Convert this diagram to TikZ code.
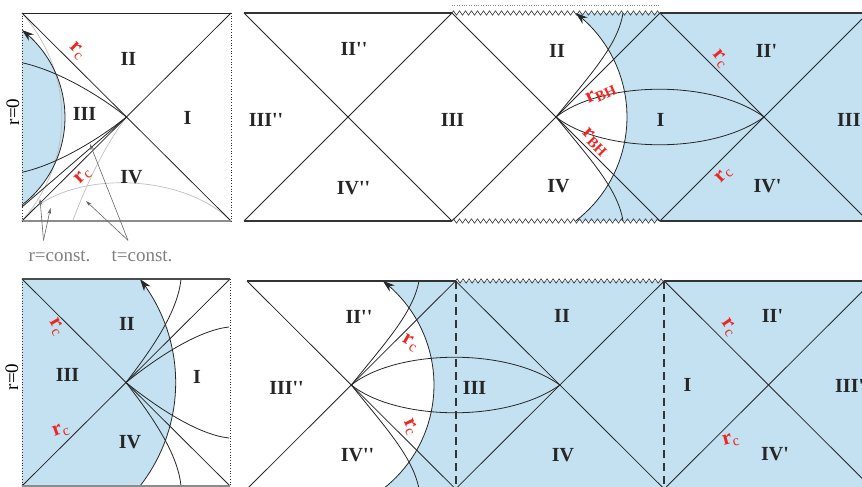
\documentclass[tikz,border=0pt]{standalone}
\usepackage{fontspec}
\setmainfont{Liberation Serif}
\usetikzlibrary{arrows.meta,decorations.pathmorphing}
\definecolor{starblue}{RGB}{195,225,241}
\definecolor{rcred}{RGB}{236,38,32}
\definecolor{constgray}{RGB}{128,128,128}
\newcommand{\rc}{r\textsubscript{\mdseries c}}
\newcommand{\rbh}{r\textsubscript{BH}}
\newcommand{\pr}{\textquotesingle}
\tikzstyle{horizon} = [line width=0.8pt, black!85]
\tikzstyle{faint} = [line width=0.7pt, black!25]
\tikzstyle{edgegray} = [line width=1.5pt, black!45]
\tikzstyle{sing} = [line width=1.8pt, black!80]
\tikzstyle{zz} = [line width=0.6pt, black!80, decorate, decoration={zigzag,segment length=6pt,amplitude=2.2pt}]
\tikzstyle{origin} = [line width=0.7pt, black!80, dotted]
\tikzstyle{surface} = [line width=0.8pt, black!85, -{Stealth[length=12pt,width=8pt]}]
\tikzstyle{region} = [font=\fontsize{20}{20}\selectfont\bfseries, text=black!85, inner sep=0pt]
\tikzstyle{rlabel} = [font=\fontsize{21}{21}\selectfont\bfseries, text=rcred, inner sep=0pt]
\tikzstyle{constlbl} = [font=\fontsize{19}{19}\selectfont, text=constgray, inner sep=1pt]
\tikzstyle{pointer} = [line width=0.6pt, black!60, -{Stealth[length=6pt,width=3.5pt]}]

\begin{document}
\begin{tikzpicture}[x=1pt,y=-1pt]
    \useasboundingbox (0,0) rectangle (862,487);
    \clip (0,0) rectangle (862,487);

    % top left
    \fill[starblue] plot[domain=-52.35:52.35,samples=40] ({-45.5+110.5*cos(\x)},{117.5+110.5*sin(\x)}) -- cycle;
    \draw[faint] (22,221) .. controls (75,160) and (75,74) .. (22,13);
    \draw[faint] (22,221) .. controls (60,170) and (180,170) .. (231,221);
    \draw[faint] (72.7,221) .. controls (88,180) and (106,144) .. (126.5,117);
    \draw[horizon] (22,13) -- (231,221);
    \draw[horizon] (22,221) -- (231,13);
    \draw[horizon] (22,62.7) .. controls (55,70) and (95,92) .. (126.5,117);
    \draw[horizon] (22,172.3) .. controls (55,165) and (95,142) .. (126.5,117);
    \draw[horizon] (22,207) -- (126.5,117);
    \draw[surface] plot[domain=-52.35:52.35,samples=40] ({-45.5+110.5*cos(\x)},{117.5-110.5*sin(\x)});
    \draw[horizon] (22,13) -- (231,13);
    \draw[edgegray] (22,221) -- (231,221);
    \draw[origin] (22,13) -- (22,221);
    \draw[origin] (231,13) -- (231,221);
    \node[region] (tlII) at (128.5,59) {II};
    \node[region] (tlIII) at (84.5,114) {III};
    \node[region] (tlI) at (187.5,118) {I};
    \node[region] (tlIV) at (131.5,177.5) {IV};
    \node[rlabel,rotate=-45] (tlrcup) at (77,51) {\rc};
    \node[rlabel,rotate=45] (tlrcdn) at (83,176) {\rc};
    \node[font=\fontsize{19}{19}\selectfont,rotate=90] (tlzero) at (13,112) {r=0};
    \node[constlbl] (rconst) at (59.5,256) {r=const.};
    \node[constlbl] (tconst) at (142,256) {t=const.};
    \coordinate (rtgtA) at (40,199);
    \coordinate (rtgtB) at (50.5,208);
    \coordinate (ttgtA) at (90,144);
    \coordinate (ttgtB) at (86,201);
    \draw[pointer] ([xshift=-16pt,yshift=9pt]rconst.north) -- (rtgtA);
    \draw[pointer] ([xshift=-16pt,yshift=9pt]rconst.north) -- (rtgtB);
    \draw[pointer] ([xshift=-14pt,yshift=9pt]tconst.north) -- (ttgtA);
    \draw[pointer] ([xshift=-14pt,yshift=9pt]tconst.north) -- (ttgtB);

    % top right
    \fill[starblue] plot[domain=-52.5:52.5,samples=40] ({496+131*cos(\x)},{117-131*sin(\x)}) -- (862,13) -- (862,221) -- cycle;
    \foreach \c in {348,556,764}{
        \draw[horizon] (\c-104,13) -- (\c+104,221);
        \draw[horizon] (\c-104,221) -- (\c+104,13);
    }
    \draw[horizon] (556,117) .. controls (600,82) and (710,78) .. (764,117);
    \draw[horizon] (556,117) .. controls (600,152) and (710,156) .. (764,117);
    \draw[horizon] (556,117) .. controls (590,75) and (618,45) .. (623,13);
    \draw[horizon] (556,117) .. controls (590,159) and (618,189) .. (623,221);
    \draw[surface] plot[domain=-52.5:52.5,samples=40] ({496+131*cos(\x)},{117-131*sin(\x)});
    \draw[sing] (244,13) -- (452,13);
    \draw[sing] (660,13) -- (862,13);
    \draw[sing] (244,221) -- (452,221);
    \draw[sing] (660,221) -- (862,221);
    \draw[zz] (452,13) -- (660,13);
    \draw[zz] (452,221) -- (660,221);
    \draw[black!45, dotted] (452,5) -- (660,5);
    \node[region] (trIIpp) at (354,49) {II\pr\pr};
    \node[region] (trIIIpp) at (266,119.5) {III\pr\pr};
    \node[region] (trIVpp) at (353.5,188) {IV\pr\pr};
    \node[region] (trIII) at (452.5,119.5) {III};
    \node[region] (trII) at (557,51) {II};
    \node[region] (trI) at (660.5,119.5) {I};
    \node[region] (trIV) at (558.5,186.5) {IV};
    \node[region] (trIIp) at (766.5,50.5) {II\pr};
    \node[region] (trIVp) at (767.5,186.5) {IV\pr};
    \node[region,anchor=west] (trIIIp) at (837,119.5) {III\pr};
    \node[rlabel,rotate=25] (trbhup) at (601,94) {\rbh};
    \node[rlabel,rotate=-45] (trbhdn) at (595,142) {\rbh};
    \node[rlabel,rotate=-50] (trrcup) at (720,59) {\rc};
    \node[rlabel,rotate=45] (trrcdn) at (724,175) {\rc};

    % bottom left
    \fill[starblue] (22,279) -- plot[domain=-38:38,samples=40] ({7.8+167.9*cos(\x)},{382.5+167.9*sin(\x)}) -- (22,486) -- cycle;
    \draw[horizon] (22,279) -- (230,486);
    \draw[horizon] (22,486) -- (230,279);
    \draw[horizon] (126,382.5) .. controls (160,355) and (200,330) .. (229,327);
    \draw[horizon] (126,382.5) .. controls (160,410) and (200,435) .. (229,438);
    \draw[horizon] (126,382.5) .. controls (155,345) and (178,310) .. (181,279);
    \draw[horizon] (126,382.5) .. controls (155,420) and (178,455) .. (181,486);
    \draw[surface] plot[domain=-38:38,samples=40] ({7.8+167.9*cos(\x)},{382.5-167.9*sin(\x)});
    \draw[line width=1.4pt, black!70] (22,279) -- (230,279);
    \draw[edgegray] (22,486) -- (230,486);
    \draw[origin] (22,279) -- (22,486);
    \draw[origin] (230,279) -- (230,486);
    \node[region] (blII) at (127,324) {II};
    \node[region] (blIII) at (67.5,374.5) {III};
    \node[region] (blI) at (197,377) {I};
    \node[region] (blIV) at (130,442) {IV};
    \node[rlabel,rotate=-60] (blrcup) at (56,327) {\rc};
    \node[rlabel,rotate=20] (blrcdn) at (61,431) {\rc};
    \node[font=\fontsize{19}{19}\selectfont,rotate=90] (blzero) at (12,377) {r=0};

    % bottom right
    \fill[starblue] plot[domain=-52.3:52.3,samples=40] ({302.5+131.5*cos(\x)},{385-131.5*sin(\x)}) -- (862,281) -- (862,489) -- cycle;
    \foreach \c in {351.3,559.9,768.5}{
        \draw[horizon] (\c-104.3,281) -- (\c+104.3,489);
        \draw[horizon] (\c-104.3,489) -- (\c+104.3,281);
    }
    \draw[horizon] (351.3,385) .. controls (395,350) and (505,346) .. (559.9,385);
    \draw[horizon] (351.3,385) .. controls (395,420) and (505,424) .. (559.9,385);
    \draw[horizon] (351.3,385) .. controls (385,343) and (413,313) .. (419,281);
    \draw[horizon] (351.3,385) .. controls (385,427) and (413,457) .. (419,489);
    \draw[surface] plot[domain=-52.3:52.3,samples=40] ({302.5+131.5*cos(\x)},{385-131.5*sin(\x)});
    \draw[sing] (247,281) -- (455.6,281);
    \draw[sing] (664.2,281) -- (862,281);
    \draw[zz] (455.6,281) -- (664.2,281);
    \foreach \c in {456,664}{
        \draw[line width=2pt, black!80, dash pattern=on 8pt off 5pt] (\c,281) -- (\c,489);
    }
    \node[region] (brIIpp) at (359,316.5) {II\pr\pr};
    \node[region] (brIIIpp) at (286.5,387.5) {III\pr\pr};
    \node[region] (brIVpp) at (357.5,455) {IV\pr\pr};
    \node[region] (brIII) at (474.5,387.5) {III};
    \node[region] (brII) at (562,316) {II};
    \node[region] (brIV) at (563,455) {IV};
    \node[region] (brI) at (687.5,385) {I};
    \node[region] (brIIp) at (772.5,315.5) {II\pr};
    \node[region] (brIVp) at (775,454.5) {IV\pr};
    \node[region,anchor=west] (brIIIp) at (835,386) {III\pr};
    \node[rlabel,rotate=-30] (brrcA) at (410,343) {\rc};
    \node[rlabel,rotate=-65] (brrcB) at (410,427) {\rc};
    \node[rlabel,rotate=-55] (brrcC) at (728.5,327.5) {\rc};
    \node[rlabel,rotate=15] (brrcD) at (731,440.5) {\rc};
\end{tikzpicture}
\end{document}
